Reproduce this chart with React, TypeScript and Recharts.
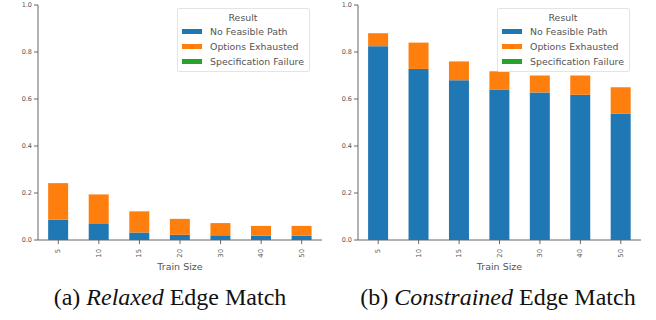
import React from 'react';
import { BarChart, Bar, XAxis, YAxis, Legend, Label } from 'recharts';

const trainSizes = ['5', '10', '15', '20', '30', '40', '50'];
const yTicks = [0, 0.2, 0.4, 0.6, 0.8, 1.0];

const relaxedNoPath = [0.087, 0.068, 0.032, 0.022, 0.02, 0.018, 0.018];
const relaxedExhausted = [0.155, 0.126, 0.09, 0.068, 0.052, 0.042, 0.042];
const relaxedSpec = [0, 0, 0, 0, 0, 0, 0];

const constrainedNoPath = [0.825, 0.728, 0.68, 0.64, 0.628, 0.618, 0.537];
const constrainedExhausted = [0.055, 0.112, 0.08, 0.078, 0.072, 0.082, 0.113];
const constrainedSpec = [0, 0, 0, 0, 0, 0, 0];

const seriesNames = ['No Feasible Path', 'Options Exhausted', 'Specification Failure'];
const colors = ['#1f77b4', '#ff7f0e', '#2ca02c'];

const build = (a: number[], b: number[], c: number[]) =>
  trainSizes.map((t, i) => ({ size: t, nfp: a[i], oe: b[i], sf: c[i] }));

const relaxedData = build(relaxedNoPath, relaxedExhausted, relaxedSpec);
const constrainedData = build(constrainedNoPath, constrainedExhausted, constrainedSpec);

const FONT = 'DejaVu Sans, sans-serif';
const AXIS = '#666';
const TXT = '#555';

const XTick = (props: any) => {
  const { x, y, payload } = props;
  return (
    <text
      x={x}
      y={y + 3}
      transform={`rotate(-90, ${x}, ${y + 3})`}
      textAnchor="end"
      dominantBaseline="central"
      fontSize={6.8}
      fill={TXT}
      fontFamily={FONT}
    >
      {payload.value}
    </text>
  );
};

const LegendBox = () => (
  <div
    style={{
      fontFamily: FONT,
      fontSize: 9.4,
      color: TXT,
      border: '1px solid #e4e4e4',
      borderRadius: 2,
      background: 'rgba(255,255,255,0.8)',
      padding: '2px 5px 2px 4px',
      lineHeight: '15px',
      boxSizing: 'border-box',
    }}
  >
    <div style={{ textAlign: 'center', lineHeight: '13px' }}>Result</div>
    {seriesNames.map((n, i) => (
      <div key={n} style={{ display: 'flex', alignItems: 'center', whiteSpace: 'nowrap' }}>
        <span
          style={{
            display: 'inline-block',
            width: 20,
            height: 5,
            background: colors[i],
            marginRight: 8,
          }}
        />
        {n}
      </div>
    ))}
  </div>
);

const Panel = ({ data, yWidth, rightMargin, legendLeft }: any) => (
  <BarChart
    width={330}
    height={280}
    data={data}
    margin={{ top: 5, right: rightMargin, bottom: 0, left: 0 }}
    barCategoryGap="25%"
  >
    <XAxis
      dataKey="size"
      height={40}
      interval={0}
      tick={<XTick />}
      tickSize={4}
      axisLine={{ stroke: AXIS }}
      tickLine={{ stroke: AXIS }}
    >
      <Label
        value="Train Size"
        position="insideBottom"
        offset={10}
        style={{ fontSize: 9.5, fill: TXT, fontFamily: FONT }}
      />
    </XAxis>
    <XAxis xAxisId="top" dataKey="size" orientation="top" height={0} tick={false} tickLine={false} axisLine={{ stroke: AXIS }} />
    <YAxis
      domain={[0, 1]}
      ticks={yTicks}
      width={yWidth}
      tickSize={4}
      tickFormatter={(v: number) => v.toFixed(1)}
      tick={{ fontSize: 6.5, fill: TXT, fontFamily: FONT }}
      axisLine={{ stroke: AXIS }}
      tickLine={{ stroke: AXIS }}
      interval={0}
    />
    <YAxis yAxisId="right" orientation="right" width={0} tick={false} tickLine={false} axisLine={{ stroke: AXIS }} domain={[0, 1]} />
    <Legend
      layout="vertical"
      align="center"
      verticalAlign="middle"
      content={() => <LegendBox />}
      wrapperStyle={{ position: 'absolute', top: 8, left: legendLeft, width: 'auto' }}
    />
    <Bar dataKey="nfp" stackId="s" fill={colors[0]} name={seriesNames[0]} isAnimationActive={false} />
    <Bar dataKey="oe" stackId="s" fill={colors[1]} name={seriesNames[1]} isAnimationActive={false} />
    <Bar dataKey="sf" stackId="s" fill={colors[2]} name={seriesNames[2]} isAnimationActive={false} />
  </BarChart>
);

const captionStyle: React.CSSProperties = {
  position: 'absolute',
  top: 282,
  width: 330,
  textAlign: 'center',
  fontFamily: '"Liberation Serif", serif',
  fontSize: 24,
  lineHeight: '30px',
  color: '#111',
  whiteSpace: 'nowrap',
};

export default function App() {
  return (
    <div style={{ position: 'absolute', left: 0, top: 0, width: 656, height: 320, background: '#fff', overflow: 'hidden' }}>
      <div style={{ position: 'absolute', left: 0, top: 0 }}>
        <Panel data={relaxedData} yWidth={38} rightMargin={8} legendLeft={177} />
      </div>
      <div style={{ position: 'absolute', left: 326, top: 0 }}>
        <Panel data={constrainedData} yWidth={32} rightMargin={15} legendLeft={171} />
      </div>
      <div style={{ ...captionStyle, left: 5 }}>
        (a) <i>Relaxed</i> Edge Match
      </div>
      <div style={{ ...captionStyle, left: 333 }}>
        (b) <i>Constrained</i> Edge Match
      </div>
    </div>
  );
}
